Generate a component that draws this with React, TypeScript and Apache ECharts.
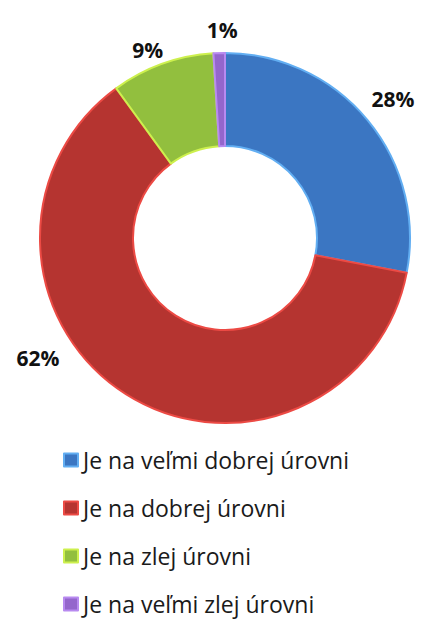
import React, { useEffect, useRef } from "react";
import * as echarts from "echarts";

const categories = [
  "Je na veľmi dobrej úrovni",
  "Je na dobrej úrovni",
  "Je na zlej úrovni",
  "Je na veľmi zlej úrovni",
];
const values = [28, 62, 9, 1];
const fillColors = ["#3b76c2", "#b53430", "#92bf3e", "#9466cc"];
const edgeColors = ["#62aef2", "#ec4a44", "#cdf04e", "#b88af0"];

// layout constants
const CX = 225;
const CY = 238;
const R_IN = 92;
const R_OUT = 185;
// label offsets from the centre (angle in degrees clockwise from top, distance)
const LABEL_ANGLE = [50.4, 237.4, 337.6, 359.2];
const LABEL_DIST = [218, 222, 203, 208];

export default function App() {
  const ref = useRef<HTMLDivElement>(null);
  useEffect(() => {
    if (!ref.current) return;
    const chart = echarts.init(ref.current, null, { renderer: "svg" });
    chart.setOption({
      animation: false,
      backgroundColor: "#ffffff",
      legend: {
        orient: "vertical",
        left: 63,
        top: 447,
        height: 240,
        padding: 0,
        itemWidth: 14,
        itemHeight: 13,
        itemGap: 22,
        icon: "rect",
        textStyle: {
          fontFamily: "Open Sans",
          fontSize: 23,
          lineHeight: 26,
          color: "#1a1a1a",
        },
        data: categories,
      },
      series: [
        {
          type: "pie",
          center: [CX, CY],
          radius: [R_IN, R_OUT],
          startAngle: 90,
          clockwise: true,
          avoidLabelOverlap: false,
          label: {
            show: true,
            position: "outside",
            formatter: "{c}%",
            fontFamily: "Open Sans",
            fontWeight: "bold",
            fontSize: 21,
            color: "#111111",
          },
          labelLine: { show: false },
          labelLayout: (params: any) => {
            const i = params.dataIndex;
            const a = (LABEL_ANGLE[i] * Math.PI) / 180;
            return {
              x: CX + LABEL_DIST[i] * Math.sin(a),
              y: CY - LABEL_DIST[i] * Math.cos(a),
              align: "center",
              verticalAlign: "middle",
            };
          },
          emphasis: { disabled: true },
          data: categories.map((name, i) => ({
            name,
            value: values[i],
            itemStyle: {
              color: fillColors[i],
              borderColor: edgeColors[i],
              borderWidth: 2,
            },
          })),
        },
      ],
    });
    return () => chart.dispose();
  }, []);
  return (
    <div
      ref={ref}
      style={{ position: "absolute", left: 0, top: 0, width: 422, height: 619 }}
    />
  );
}
